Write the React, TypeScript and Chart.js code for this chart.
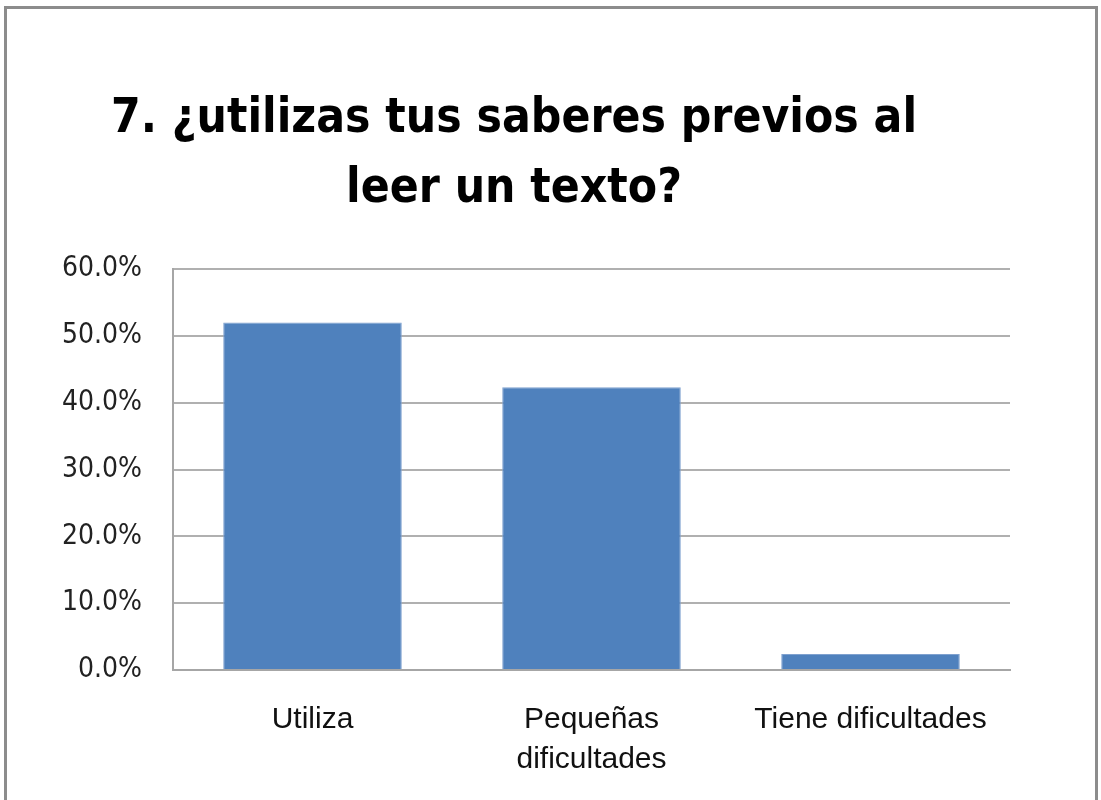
import React, { useEffect, useRef } from "react";
import { Chart, registerables } from "chart.js";

Chart.register(...registerables);

const titleLines = ["7. ¿utilizas tus saberes previos al", "leer un texto?"];
const categories: (string | string[])[] = ["Utiliza", ["Pequeñas", "dificultades"], "Tiene dificultades"];
const values = [52.0, 42.3, 2.4];
const yMin = 0;
const yMax = 60;
const yStep = 10;

export default function App() {
  const ref = useRef<HTMLCanvasElement | null>(null);

  useEffect(() => {
    if (!ref.current) return;
    const chart = new Chart(ref.current, {
      type: "bar",
      data: {
        labels: categories,
        datasets: [
          {
            data: values,
            backgroundColor: "#4F81BD",
            borderColor: "#7FA1CF",
            borderWidth: 1,
            barPercentage: 0.64,
            categoryPercentage: 1,
          },
        ],
      },
      options: {
        responsive: false,
        animation: false,
        layout: { padding: { left: 18, right: 91, top: 0, bottom: 0 } },
        plugins: {
          legend: { display: false },
          tooltip: { enabled: false },
          title: {
            display: true,
            text: titleLines,
            color: "#000000",
            font: { family: "'DejaVu Sans Condensed', sans-serif", size: 47.5, weight: "bold", lineHeight: "70px" },
            padding: { top: 85, bottom: 44 },
          },
        },
        scales: {
          x: {
            grid: { display: false, drawTicks: false },
            border: { display: true, color: "#a6a6a6", width: 2 },
            ticks: {
              color: "#111111",
              font: { family: "'Liberation Sans', Arial, sans-serif", size: 30, lineHeight: "40px" },
              padding: 30,
              maxRotation: 0,
              autoSkip: false,
            },
            afterFit: (s: any) => {
              s.height = 130;
            },
          },
          y: {
            min: yMin,
            max: yMax,
            grid: { color: "#b0b0b0", lineWidth: 2, drawTicks: false },
            border: { display: true, color: "#a6a6a6", width: 2 },
            ticks: {
              stepSize: yStep,
              color: "#222222",
              font: { family: "'DejaVu Sans Condensed', sans-serif", size: 28 },
              padding: 31,
              callback: (v: any) => Number(v).toFixed(1) + "%",
            },
            afterFit: (s: any) => {
              s.width = 155;
            },
          },
        },
      },
    });
    return () => chart.destroy();
  }, []);

  return (
    <div style={{ position: "absolute", left: 0, top: 0, width: 1101, height: 800, background: "#ffffff", overflow: "hidden" }}>
      <div
        style={{
          position: "absolute",
          left: 4,
          top: 6,
          width: 1094,
          height: 820,
          border: "3px solid #8c8c8c",
          boxSizing: "border-box",
        }}
      />
      <canvas ref={ref} width={1101} height={800} style={{ position: "absolute", left: 0, top: 0 }} />
    </div>
  );
}
